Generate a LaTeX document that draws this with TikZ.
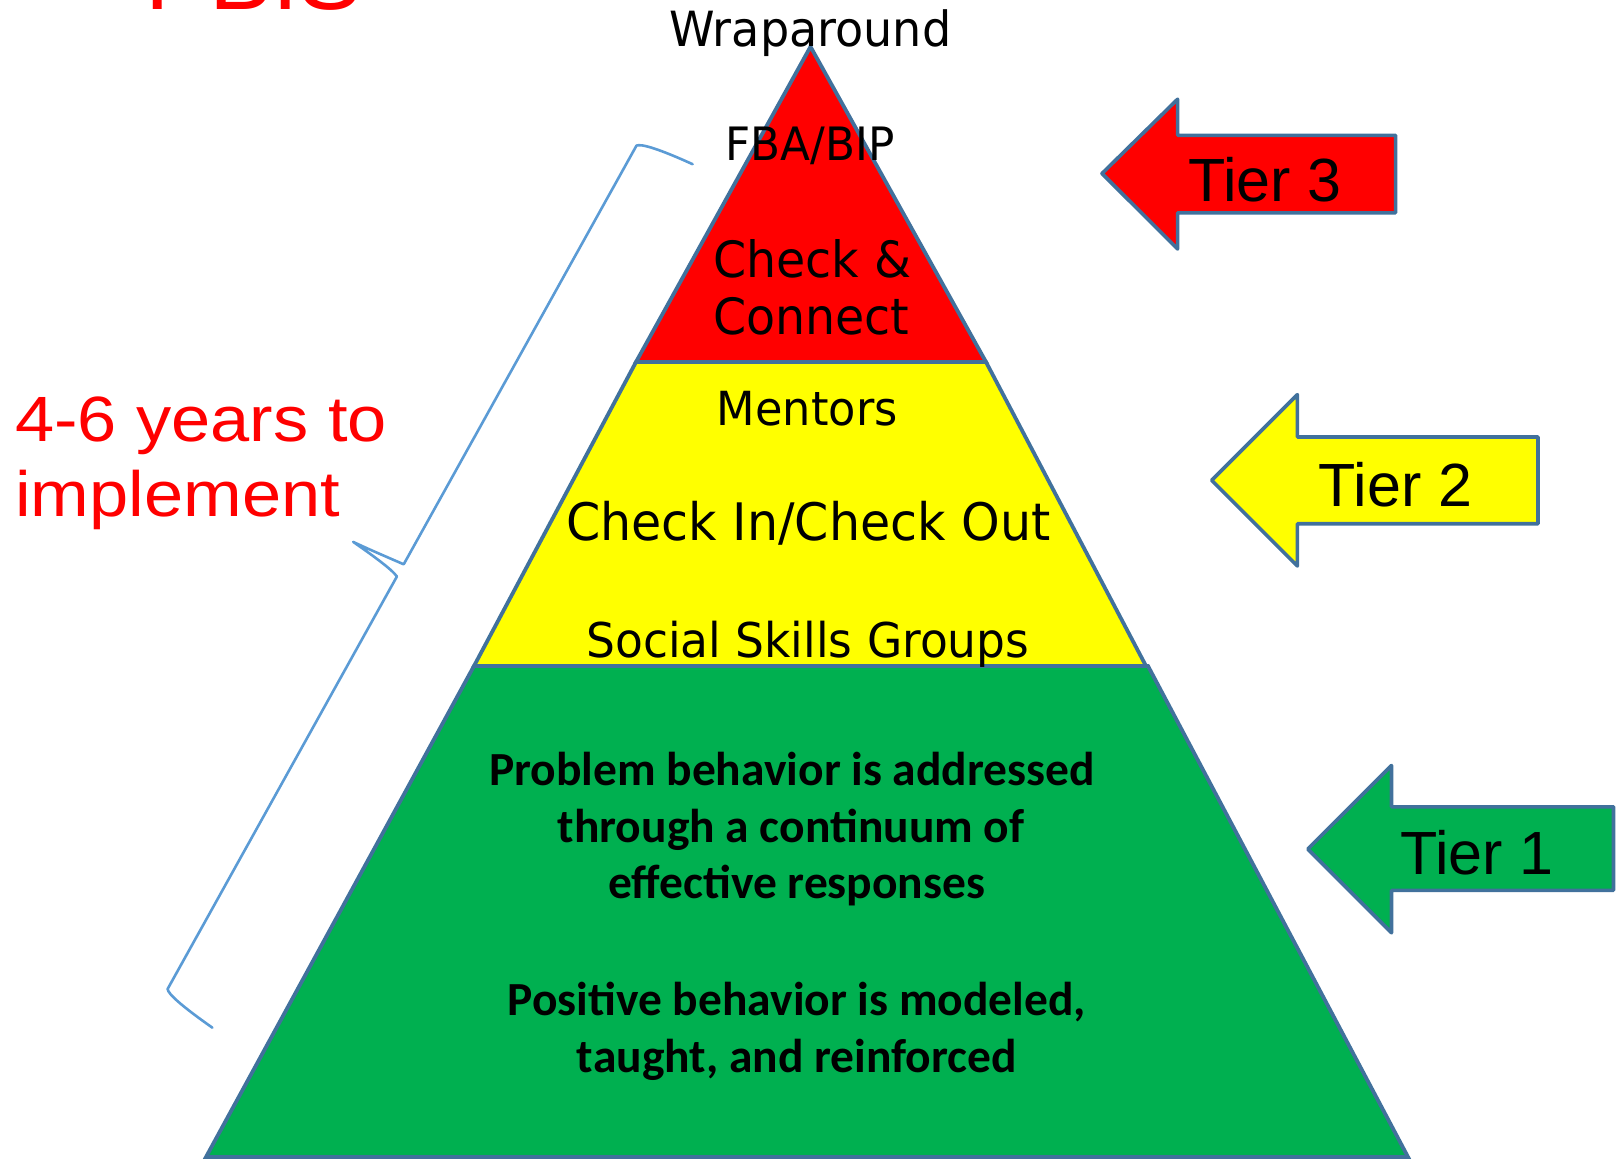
\documentclass[tikz,border=0pt]{standalone}
\usepackage{fontspec}
\newfontfamily\tahfont{DejaVu Sans}[FakeStretch=0.95]
\newfontfamily\arifont{Liberation Sans}
\newfontfamily\widefont{Liberation Sans}[FakeStretch=1.1]
\newfontfamily\calfont{Carlito}
\newcommand{\setfs}[1]{\fontsize{#1}{#1}\selectfont}
\definecolor{edgeblue}{RGB}{65,113,156}
\definecolor{braceblue}{RGB}{91,155,213}
\definecolor{pgreen}{RGB}{0,176,80}
\definecolor{pred}{RGB}{255,0,0}
\definecolor{pyellow}{RGB}{255,255,0}
\begin{document}
\begin{tikzpicture}[x=1pt,y=-1pt,
  layer/.style={fill=#1, draw=edgeblue, line width=3.8pt, line join=miter},
  arrowshape/.style={fill=#1, draw=edgeblue, line width=3.6pt, line join=round},
  lbl/.style={anchor=base, inner sep=0pt, text=black},
  greentxt/.style={anchor=base, inner sep=0pt, text=black, font=\calfont\bfseries\setfs{47.5}},
  bracestyle/.style={draw=braceblue, line width=2.6pt, line cap=round, line join=round}]
\useasboundingbox (0,0) rectangle (1618,1159);

% pyramid layers
\draw[layer=pgreen] (474,666) -- (1148,666) -- (1408,1157) -- (206,1157) -- cycle;
\draw[layer=pyellow] (636,362) -- (986,362) -- (1146,666) -- (474,666) -- cycle;
\draw[layer=pred] (810.5,46.7) -- (986,362) -- (636,362) -- cycle;

% top label (cut off at the top edge, as in the reference)
\node[anchor=base west, inner sep=0pt, text=pred, font=\arifont\setfs{95}] (pbis) at (145.5,9.3) {PBIS};

% pyramid texts
\node[lbl, font=\tahfont\setfs{48.5}] (wrap) at (810.3,46.7) {Wraparound};
\node[lbl, font=\tahfont\setfs{46}] (fba) at (810.3,160) {FBA/BIP};
\node[lbl, anchor=base west, font=\tahfont\setfs{50}] (cc1) at (713,277) {Check \&};
\node[lbl, anchor=base west, font=\tahfont\setfs{50}] (cc2) at (713,334) {Connect};
\node[lbl, font=\tahfont\setfs{47}] (mentors) at (807.3,425.7) {Mentors};
\node[lbl, font=\tahfont\setfs{51.7}] (cico) at (808.3,540) {Check In/Check Out};
\node[lbl, font=\tahfont\setfs{47.9}] (ssg) at (807.8,657) {Social Skills Groups};

% green texts
\node[greentxt] (g1) at (792,785) {Problem behavior is addressed};
\node[greentxt] (g2) at (791,842) {through a continuum of};
\node[greentxt] (g3) at (796.8,898.7) {effective responses};
\node[greentxt] (g4) at (797,1015.5) {Positive behavior is modeled,};
\node[greentxt] (g5) at (796.8,1072) {taught, and reinforced};

% left label
\node[anchor=base west, inner sep=0pt, text=pred, font=\widefont\setfs{64}] (yrs1) at (15,441.7) {4-6 years to};
\node[anchor=base west, inner sep=0pt, text=pred, font=\widefont\setfs{64}] (yrs2) at (15,516.7) {implement};

% brace
\draw[bracestyle] (692.6,164.2) .. controls (657.9,148.4) and (641.1,143.6) .. (636.5,145.6)
  -- (403.7,564.3) .. controls (385.3,556.3) and (366.8,548.4) .. (353.2,541.9)
  .. controls (369.7,553.4) and (391.9,569.1) .. (396.9,576.5)
  -- (167.6,989.0) .. controls (168.2,994.0) and (181.2,1005.7) .. (212.4,1027.7);

% tier arrows
\draw[arrowshape=pred] (1102,173.5) -- (1177.6,99.2) -- (1177.6,135.3) -- (1395.6,135.3)
  -- (1395.6,212.8) -- (1177.6,212.8) -- (1177.6,249) -- cycle;
\node[lbl, font=\arifont\setfs{61}] (t3) at (1265,201.4) {Tier 3};

\draw[arrowshape=pyellow] (1211.7,480.3) -- (1297.4,394.6) -- (1297.4,437) -- (1538,437)
  -- (1538,523.7) -- (1297.4,523.7) -- (1297.4,566) -- cycle;
\node[lbl, font=\arifont\setfs{61}] (t2) at (1395.5,506) {Tier 2};

\draw[arrowshape=pgreen] (1307.8,849.1) -- (1391.5,765.5) -- (1391.5,806.8) -- (1613.5,806.8)
  -- (1613.5,890.4) -- (1391.5,890.4) -- (1391.5,932.8) -- cycle;
\node[lbl, font=\arifont\setfs{61}] (t1) at (1477,874) {Tier 1};
\end{tikzpicture}
\end{document}
